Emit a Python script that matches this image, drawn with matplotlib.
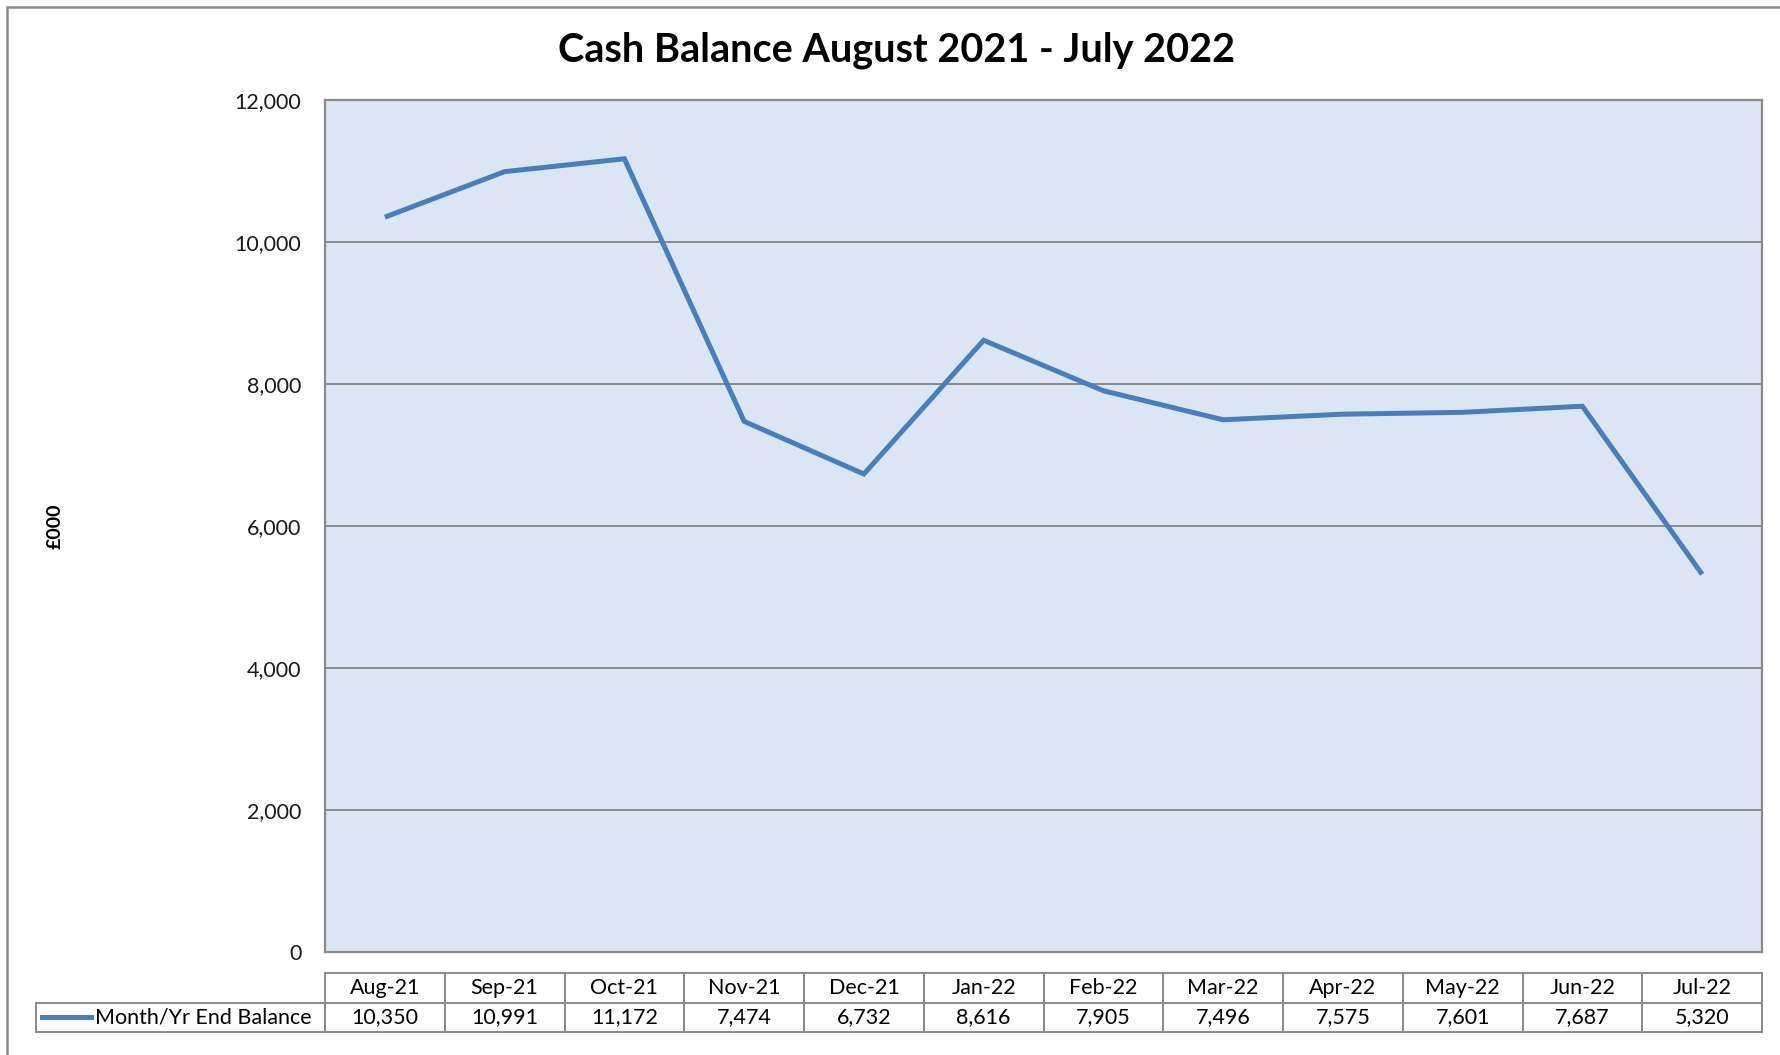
import numpy as np
import matplotlib
matplotlib.use('Agg')
import matplotlib.pyplot as plt
from matplotlib.patches import Rectangle
from matplotlib.lines import Line2D

plt.rcParams['font.family'] = ['Lato', 'DejaVu Sans']

# data
months = ['Aug-21', 'Sep-21', 'Oct-21', 'Nov-21', 'Dec-21', 'Jan-22',
          'Feb-22', 'Mar-22', 'Apr-22', 'May-22', 'Jun-22', 'Jul-22']
balance = [10350, 10991, 11172, 7474, 6732, 8616, 7905, 7496, 7575, 7601, 7687, 5320]
series_name = 'Month/Yr End Balance'
title = 'Cash Balance August 2021 - July 2022'
ylabel = '£000'

line_col = '#4A7EBB'
grid_col = '#8A8A8A'
bg_col = '#DCE6F2'

W, H = 1780, 1055
fig = plt.figure(figsize=(W / 100, H / 100), dpi=100)

# plot area in pixels (left, top, right, bottom)
pl, pt, pr, pb = 325, 100, 1762, 952
ax = fig.add_axes([pl / W, 1 - pb / H, (pr - pl) / W, (pb - pt) / H])
ax.set_facecolor(bg_col)

x = np.arange(len(months))
ax.plot(x, balance, color=line_col, lw=3.6, solid_joinstyle='miter', solid_capstyle='butt', zorder=3)

ax.set_xlim(-0.5, len(months) - 0.5)
ax.set_ylim(0, 12000)
ax.set_yticks(np.arange(0, 12001, 2000))
ax.set_yticklabels(['{:,}'.format(v) for v in range(0, 12001, 2000)], fontsize=15.5, color='#1a1a1a')
ax.tick_params(axis='y', length=0, pad=17)
ax.set_xticks([])
ax.grid(axis='y', color=grid_col, lw=1.4)
ax.set_axisbelow(True)
for s in ax.spines.values():
    s.set_color(grid_col)
    s.set_linewidth(1.6)

# title and y label
fig.text(897 / W, 1 - 50 / H, title, ha='center', va='center', fontsize=28.5, fontweight='bold')
fig.text(55 / W, 1 - 526 / H, ylabel, ha='center', va='center', rotation=90, fontsize=14, fontweight='bold')

# data table: first column holds the legend key
tl = 36
tb_top, tb_bot = 973, 1032
pw, ph = pr - pl, pb - pt
tw = pr - tl
cell_text = [[''] + ['{:,}'.format(v) for v in balance]]
col_w = [(pl - tl) / tw] + [pw / len(months) / tw] * len(months)
tab = ax.table(cellText=cell_text, colLabels=[''] + months, colWidths=col_w, cellLoc='center',
               bbox=[(tl - pl) / pw, (pb - tb_bot) / ph, tw / pw, (tb_bot - tb_top) / ph])
tab.auto_set_font_size(False)
tab.set_fontsize(15.5)
for (r, c), cell in tab.get_celld().items():
    cell.set_edgecolor(grid_col)
    cell.set_linewidth(1.4)
tab[0, 0].visible_edges = ''

# legend key inside the first cell of the value row
ky = (pb - 1017) / ph
ax.add_line(Line2D([(42 - pl) / pw, (91 - pl) / pw], [ky, ky], transform=ax.transAxes,
                   color=line_col, lw=3.6, clip_on=False))
ax.text((95 - pl) / pw, ky, series_name, transform=ax.transAxes, ha='left', va='center',
        fontsize=15.5, clip_on=False)

# outer chart border (cropped at right and bottom)
fig.patches.append(Rectangle((7 / W, -0.1), 1.2, 1 - 7 / H + 0.1, transform=fig.transFigure,
                             fill=False, edgecolor=grid_col, lw=1.8))

fig.savefig('out.png', dpi=100)
